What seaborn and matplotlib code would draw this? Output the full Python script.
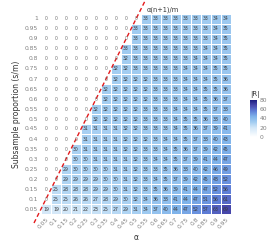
import numpy as np
import pandas as pd
import matplotlib
matplotlib.use("Agg")
import matplotlib.pyplot as plt
import seaborn as sns
from matplotlib.colors import LinearSegmentedColormap

alphas = [0.05, 0.1, 0.15, 0.2, 0.25, 0.3, 0.35, 0.4, 0.45, 0.5,
          0.55, 0.6, 0.65, 0.7, 0.75, 0.8, 0.85, 0.9, 0.95]
props = [1, 0.95, 0.9, 0.85, 0.8, 0.75, 0.7, 0.65, 0.6, 0.55,
         0.5, 0.45, 0.4, 0.35, 0.3, 0.25, 0.2, 0.15, 0.1, 0.05]

# |R| per row (s/m from 1 down to 0.05), columns alpha 0.05..0.95
r_1 = [0]*10 + [33, 33, 33, 33, 33, 33, 33, 34, 34]
r_095 = [0]*9 + [33, 33, 33, 33, 33, 33, 33, 33, 34, 35]
r_09 = [0]*9 + [33, 33, 33, 33, 33, 33, 33, 33, 34, 35]
r_085 = [0]*8 + [33, 33, 33, 33, 33, 33, 33, 33, 34, 34, 35]
r_08 = [0]*8 + [32, 33, 33, 33, 33, 33, 33, 34, 34, 34, 35]
r_075 = [0]*7 + [32, 32, 33, 33, 33, 33, 33, 34, 34, 34, 35, 35]
r_07 = [0]*7 + [32, 32, 32, 32, 33, 33, 33, 34, 34, 34, 35, 36]
r_065 = [0]*6 + [32, 32, 32, 32, 32, 33, 33, 33, 34, 34, 35, 35, 36]
r_06 = [0]*6 + [32, 32, 32, 32, 32, 33, 33, 33, 34, 34, 35, 36, 37]
r_055 = [0]*5 + [32, 32, 32, 32, 32, 33, 33, 33, 34, 34, 34, 35, 37, 38]
r_05 = [0]*5 + [32, 32, 32, 32, 32, 33, 33, 33, 34, 35, 35, 36, 38, 40]
r_045 = [0]*4 + [31, 31, 31, 31, 32, 32, 33, 33, 33, 34, 35, 36, 37, 39, 41]
r_04 = [0]*4 + [31, 31, 31, 31, 32, 32, 32, 33, 34, 34, 35, 37, 38, 40, 43]
r_035 = [0]*3 + [30, 31, 31, 31, 31, 32, 32, 33, 33, 34, 35, 36, 37, 39, 42, 45]
r_03 = [0]*3 + [30, 30, 31, 31, 31, 31, 32, 33, 34, 34, 35, 37, 39, 41, 44, 47]
r_025 = [0]*2 + [29, 30, 30, 30, 30, 31, 31, 32, 33, 33, 35, 36, 38, 40, 42, 46, 49]
r_02 = [0]*2 + [29, 29, 29, 29, 30, 30, 31, 32, 33, 34, 35, 37, 39, 42, 45, 48, 52]
r_015 = [0] + [25, 28, 28, 28, 29, 29, 30, 31, 32, 33, 35, 36, 39, 41, 44, 47, 52, 56]
r_01 = [0] + [25, 25, 26, 26, 27, 28, 29, 30, 32, 34, 36, 38, 41, 44, 47, 51, 56, 61]
r_005 = [19, 19, 20, 21, 22, 23, 25, 27, 29, 31, 34, 37, 40, 44, 47, 52, 57, 63, 69]

rows = [r_1, r_095, r_09, r_085, r_08, r_075, r_07, r_065, r_06, r_055,
        r_05, r_045, r_04, r_035, r_03, r_025, r_02, r_015, r_01, r_005]

df = pd.DataFrame(rows, index=[f"{p:g}" for p in props],
                  columns=[f"{a:g}" for a in alphas])

cmap = LinearSegmentedColormap.from_list(
    "rblue", [(0, "#ffffff"), (0.25, "#d2e7f8"), (0.4, "#a3cdf1"),
              (0.55, "#7fb3ea"), (0.7, "#5f80d8"), (0.85, "#4a4aae"),
              (1.0, "#1c1c80")])

fig = plt.figure(figsize=(2.74, 2.49), dpi=100)
ax = fig.add_axes([41/274, 1-214/249, 190/274, 200/249])
cax = fig.add_axes([250/274, 1-137/249, 7/274, 37/249])

sns.heatmap(df, ax=ax, cmap=cmap, vmin=0, vmax=80, annot=True, fmt="d",
            annot_kws={"size": 3.3, "color": "#3a3a3a"},
            linewidths=0.4, linecolor="white", cbar_ax=cax,
            xticklabels=True, yticklabels=True)

# zero cells get lighter text
for t in ax.texts:
    if t.get_text() == "0":
        t.set_color("#707070")

# alpha(n+1)/m line: s = 2*alpha, in cell coordinates
xs = np.array([-0.7, 10.5])
ys = 19.5 - 2*xs
ax.plot(xs, ys, color="#e41a1c", ls=(0, (3, 2)), lw=1.0, clip_on=False)
ax.text(10.6, -0.45, "α(n+1)/m", fontsize=4.8, color="#333333",
        ha="left", va="center", clip_on=False)

ax.tick_params(length=0, labelsize=4.3, colors="#7f7f7f", pad=2)
ax.set_yticklabels(ax.get_yticklabels(), rotation=0)
ax.set_xticklabels(ax.get_xticklabels(), rotation=45, ha="right",
                   rotation_mode="anchor")
ax.set_xlabel("α", fontsize=5.5, color="#333333", labelpad=2)
ax.set_ylabel("Subsample proportion (s/m)", fontsize=5.5, color="#333333",
              labelpad=3)

cax.tick_params(length=0, labelsize=4.3, colors="#7f7f7f", pad=2)
cax.set_yticks([0, 20, 40, 60, 80])
cax.set_title("|R|", fontsize=5, color="#333333", loc="left", pad=3)
for s in cax.spines.values():
    s.set_visible(False)

fig.savefig("out.png", dpi=100)
